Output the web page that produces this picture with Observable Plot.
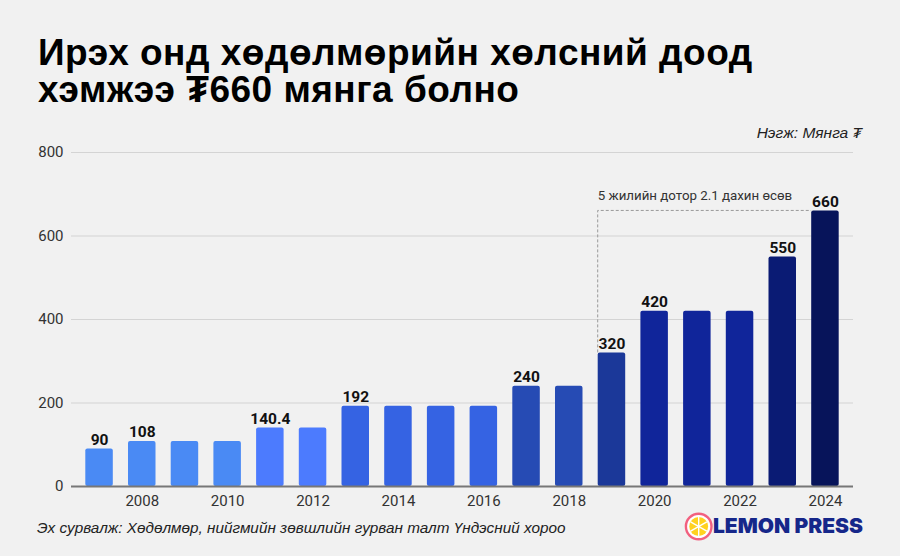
<!DOCTYPE html>
<html>
<head>
<meta charset="utf-8">
<script src="https://cdn.jsdelivr.net/npm/d3@7"></script>
<script src="https://cdn.jsdelivr.net/npm/@observablehq/plot@0.6"></script>
<style>
  html, body { margin: 0; padding: 0; background: #f1f1f1; }
  #page { position: relative; width: 900px; height: 556px; overflow: hidden; background: #f1f1f1; }
  #header { position: relative; height: 144px; }
  #title { position: absolute; left: 38px; top: 34px; margin: 0; font-family: "Liberation Sans", Arial, sans-serif; font-weight: 700; font-size: 37px; line-height: 37px; letter-spacing: 0.5px; color: #000; white-space: nowrap; }
  #unit { position: absolute; right: 38px; top: 124px; font-family: "Liberation Sans", Arial, sans-serif; font-style: italic; font-size: 15.5px; line-height: 18px; color: #222; }
  #chart svg { display: block; }
  #footer { position: relative; height: 46px; }
  #source { position: absolute; left: 37px; top: 9px; font-family: "Liberation Sans", Arial, sans-serif; font-style: italic; font-size: 15.3px; line-height: 18px; color: #222; white-space: nowrap; }
  #logo { position: absolute; left: 684px; top: 1px; }
</style>
</head>
<body>
<div id="page">
  <div id="header">
    <h1 id="title">Ирэх онд хөдөлмөрийн хөлсний доод<br>хэмжээ ₮660 мянга болно</h1>
    <div id="unit">Нэгж: Мянга ₮</div>
  </div>
  <div id="chart"></div>
  <div id="footer">
    <div id="source">Эх сурвалж: Хөдөлмөр, нийгмийн зөвшлийн гурван талт Үндэсний хороо</div>
    <svg id="logo" width="182" height="32" viewBox="0 0 182 32">
      <circle cx="14.7" cy="15.5" r="12.8" fill="#fff" stroke="#f2607f" stroke-width="2.4"></circle>
      <circle cx="14.7" cy="15.5" r="9.4" fill="#ffd21f"></circle>
      <g stroke="#fff" stroke-width="1.4">
        <line x1="14.7" y1="6.1" x2="14.7" y2="24.9"></line>
        <line x1="6.6" y1="10.8" x2="22.8" y2="20.2"></line>
        <line x1="6.6" y1="20.2" x2="22.8" y2="10.8"></line>
      </g>
      <text x="29" y="22.3" textLength="150" lengthAdjust="spacingAndGlyphs" font-family="Inter, Lato, sans-serif" font-weight="900" font-size="20" fill="#16278a">LEMON PRESS</text>
    </svg>
  </div>
</div>
<script>
const years = ["2007","2008","2009","2010","2011","2012","2013","2014","2015","2016","2017","2018","2019","2020","2021","2022","2023","2024"];
const wages = [90, 108, 108, 108, 140.4, 140.4, 192, 192, 192, 192, 240, 240, 320, 420, 420, 420, 550, 660];
const barColors = ["#4a8af4","#4a8af4","#4a8af4","#4a8af4","#4c7bfe","#4c7bfe","#3563e3","#3563e3","#3563e3","#3563e3","#264bb4","#264bb4","#1b3899","#10259a","#10259a","#10259a","#0a1b74","#07145a"];
const labeledYears = ["2007","2008","2011","2013","2017","2019","2020","2023","2024"];
const yTicks = [0, 200, 400, 600, 800];
const xTicks = ["2008","2010","2012","2014","2016","2018","2020","2022","2024"];
const annotation = { from: "2019", to: "2024", text: "5 жилийн дотор 2.1 дахин өсөв" };

const data = years.map((year, i) => ({ year, wage: wages[i], color: barColors[i] }));
const labeled = data.filter(d => labeledYears.includes(d.year));

const plot = Plot.plot({
  width: 900,
  height: 366,
  marginTop: 8,
  marginBottom: 24,
  marginLeft: 71,
  marginRight: 47,
  style: { fontFamily: "Roboto, sans-serif", fontSize: "15px", color: "#333", background: "transparent" },
  x: { domain: years, round: false, paddingInner: 0.356, paddingOuter: 0.335, ticks: xTicks, tickSize: 0, tickPadding: 9, label: null },
  y: { domain: [0, 800], ticks: yTicks, tickSize: 0, tickPadding: 8, label: null },
  color: { type: "identity" },
  marks: [
    Plot.gridY(yTicks, { stroke: "#d4d4d4", strokeOpacity: 1, strokeWidth: 1.2 }),
    Plot.barY(data, { x: "year", y: "wage", fill: "color", rx: 2 }),
    Plot.ruleY([0], { stroke: "#777", strokeWidth: 2 }),
    Plot.text(labeled, { x: "year", y: "wage", text: d => String(d.wage), dy: -9, fontWeight: "bold", fontSize: 15.5, fill: "#111" })
  ]
});
document.getElementById("chart").appendChild(plot);

// annotation: dashed bracket from the 2019 bar to the 2024 bar, drawn with the plot's own scales
const xs = plot.scale("x"), ys = plot.scale("y");
const from = data.find(d => d.year === annotation.from);
const to = data.find(d => d.year === annotation.to);
const x0 = xs.apply(from.year), x1 = xs.apply(to.year);
const yA = ys.apply(from.wage), yB = ys.apply(to.wage);
const svg = d3.select(plot);
svg.append("path")
  .attr("d", `M${x0},${yA}V${yB}H${x1}`)
  .attr("fill", "none")
  .attr("stroke", "#999")
  .attr("stroke-width", 1)
  .attr("stroke-dasharray", "3,2");
svg.append("text")
  .attr("x", x0)
  .attr("y", yB - 10)
  .attr("text-anchor", "start")
  .attr("font-family", "Roboto, sans-serif")
  .attr("font-size", 13.3)
  .attr("fill", "#333")
  .text(annotation.text);
</script>
</body>
</html>
